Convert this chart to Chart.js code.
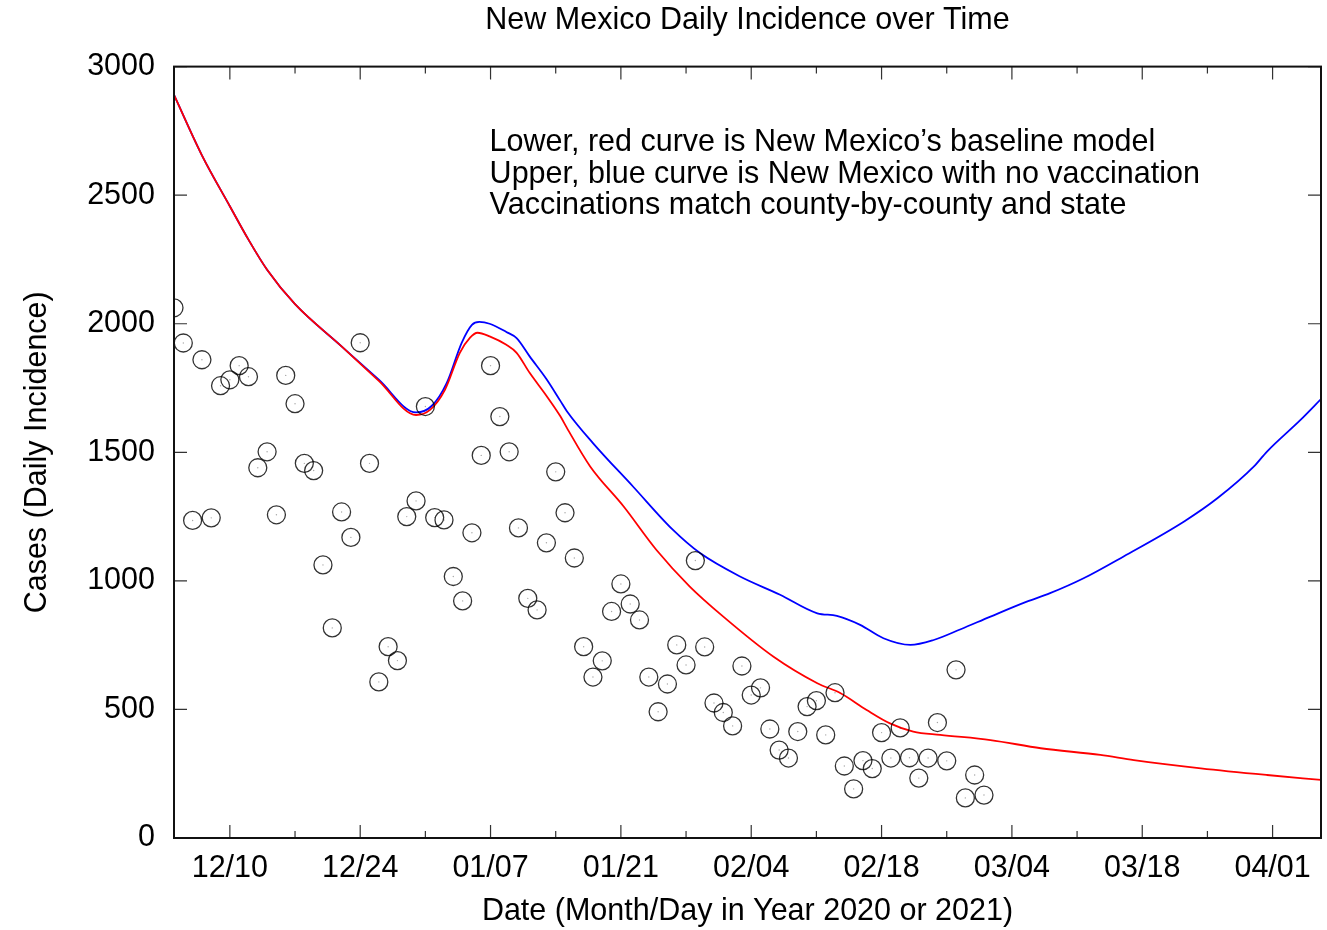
<!DOCTYPE html>
<html>
<head>
<meta charset="utf-8">
<title>New Mexico Daily Incidence over Time</title>
<script src="https://cdn.jsdelivr.net/npm/chart.js@4.4.0/dist/chart.umd.min.js"></script>
<style>
  html, body { margin: 0; padding: 0; background: #fff; }
  #wrap { width: 1327px; height: 930px; }
</style>
</head>
<body>
<div id="wrap"><canvas id="incidenceChart" width="1327" height="930"></canvas></div>
<script>
// day 0 = 12/04/2020, one observation per day
const observedCases = [
  2062, 1925, 1235, 1860, 1245, 1759, 1782, 1837, 1794, 1440,
  1502, 1257, 1799, 1689, 1457, 1429, 1062, 817, 1268, 1169,
  1926, 1457, 607, 744, 690, 1250, 1311, 1678, 1246, 1237,
  1017, 922, 1187, 1488, 1837, 1639, 1502, 1206, 932, 887,
  1148, 1424, 1265, 1089, 744, 626, 689, 881, 988, 910,
  848, 626, 491, 599, 751, 673, 1079, 743, 525, 488,
  436, 669, 556, 584, 424, 342, 311, 414, 511, 534,
  401, 565, 280, 191, 301, 270, 410, 311, 428, 312,
  233, 311, 449, 300, 654, 156, 245, 167
];

// lower, red curve: baseline model
const baselineDays = [0, 3, 6, 8, 10, 13, 18, 22, 26, 27.5, 29.1, 30.7, 31.8, 32.6, 33.9, 35.7, 36.8, 38.2, 40, 41.5,
  42.2, 44.7, 48.3, 51.8, 55.4, 59, 64.4, 69.1, 71.6, 74.4, 76.9, 79.4, 82.3, 87.7, 93.1, 99.5, 103.1, 110.3, 117.4, 123.2];
const baselineCases = [2890, 2655, 2457, 2327, 2210, 2076, 1912, 1778, 1645, 1665, 1743, 1887, 1946, 1965, 1951, 1918, 1887, 1809, 1720, 1640,
  1595, 1445, 1289, 1121, 978, 861, 705, 602, 563, 498, 446, 414, 401, 381, 349, 323, 303, 271, 245, 226];

// upper, blue curve: no vaccination
const noVaxDays = [0, 3, 6, 8, 10, 13, 18, 22, 26, 27.7, 29.3, 30.9, 32, 32.8, 33.9, 35.7, 36.8, 38.2, 40, 41.5,
  42.2, 45, 49.3, 53.6, 56.5, 60.8, 65.1, 69.1, 71.2, 73.7, 76.2, 79.1, 81.6, 84.5, 87.7, 91.6, 94.1, 97.7, 102,
  108.5, 112.1, 116, 117.4, 121, 123.2];
const noVaxCases = [2890, 2655, 2457, 2327, 2210, 2076, 1912, 1782, 1655, 1681, 1770, 1926, 1996, 2007, 2000, 1968, 1944, 1873, 1785, 1700,
  1660, 1536, 1367, 1198, 1108, 1017, 946, 874, 864, 829, 777, 751, 770, 812, 861, 919, 952, 1010, 1095,
  1231, 1322, 1445, 1503, 1626, 1707];

const xTickDays = [6, 13, 20, 27, 34, 41, 48, 55, 62, 69, 76, 83, 90, 97, 104, 111, 118];
const xTickLabels = ['12/10', '', '12/24', '', '01/07', '', '01/21', '', '02/04', '', '02/18', '', '03/04', '', '03/18', '', '04/01'];

const chartTitle = 'New Mexico Daily Incidence over Time';
const xAxisTitle = 'Date (Month/Day in Year 2020 or 2021)';
const yAxisTitle = 'Cases (Daily Incidence)';
const noteLines = [
  'Lower, red curve is New Mexico\u2019s baseline model',
  'Upper, blue curve is New Mexico with no vaccination',
  'Vaccinations match county-by-county and state'
];
const noteDay = 33.9;
const noteCases = 2704;

const fontFamily = '"Liberation Sans", Arial, Helvetica, sans-serif';
Chart.defaults.font.family = fontFamily;
Chart.defaults.font.size = 30.5;
Chart.defaults.color = '#000';

// gnuplot style box with inward ticks, plus the note text
const gnuplotFrame = {
  id: 'gnuplotFrame',
  afterDraw(chart) {
    const { ctx, chartArea } = chart;
    const { left, right, top, bottom } = chartArea;
    const xs = chart.scales.x;
    const ys = chart.scales.y;
    ctx.save();
    ctx.strokeStyle = '#333';
    ctx.lineWidth = 1.2;
    ctx.beginPath();
    xs.ticks.forEach(function(t, i) {
      const px = xs.getPixelForValue(t.value);
      const len = xTickLabels[i] ? 13 : 7;
      ctx.moveTo(px, bottom); ctx.lineTo(px, bottom - len);
      ctx.moveTo(px, top); ctx.lineTo(px, top + len);
    });
    ys.ticks.forEach(function(t) {
      const py = ys.getPixelForValue(t.value);
      ctx.moveTo(left, py); ctx.lineTo(left + 13, py);
      ctx.moveTo(right, py); ctx.lineTo(right - 13, py);
    });
    ctx.stroke();
    ctx.lineWidth = 2;
    ctx.strokeStyle = '#111';
    ctx.strokeRect(left, top, right - left, bottom - top);

    ctx.fillStyle = '#000';
    ctx.font = '30.5px ' + fontFamily;
    ctx.textAlign = 'left';
    ctx.textBaseline = 'middle';
    const nx = xs.getPixelForValue(noteDay);
    const ny = ys.getPixelForValue(noteCases);
    noteLines.forEach(function(line, i) {
      ctx.fillText(line, nx, ny + i * 31.5);
    });
    ctx.restore();
  }
};

const context = document.getElementById('incidenceChart').getContext('2d');
const incidenceChart = new Chart(context, {
  type: 'scatter',
  data: {
    datasets: [
      {
        label: 'Observed',
        data: observedCases.map((v, i) => ({ x: i, y: v })),
        pointStyle: 'circle',
        pointRadius: 9,
        borderColor: 'rgba(0,0,0,0.8)',
        backgroundColor: 'rgba(0,0,0,0)',
        borderWidth: 1.3
      },
      {
        label: 'Observed centre',
        data: observedCases.map((v, i) => ({ x: i, y: v })),
        pointStyle: 'circle',
        pointRadius: 0.7,
        borderWidth: 0,
        backgroundColor: 'rgba(0,0,0,0.35)'
      },
      {
        label: 'Baseline',
        data: baselineDays.map((d, i) => ({ x: d, y: baselineCases[i] })),
        showLine: true,
        pointRadius: 0,
        borderColor: 'rgb(255,0,0)',
        borderWidth: 1.8,
        cubicInterpolationMode: 'monotone'
      },
      {
        label: 'No vaccination',
        data: noVaxDays.map((d, i) => ({ x: d, y: noVaxCases[i] })),
        showLine: true,
        pointRadius: 0,
        borderColor: 'rgb(0,0,255)',
        borderWidth: 1.8,
        cubicInterpolationMode: 'monotone'
      }
    ]
  },
  options: {
    responsive: false,
    animation: false,
    devicePixelRatio: 1,
    layout: { autoPadding: false, padding: { left: 0, right: 6, top: 0, bottom: 0 } },
    plugins: {
      legend: { display: false },
      tooltip: { enabled: false },
      title: {
        display: true,
        text: chartTitle,
        fullSize: false,
        font: { size: 30.5, weight: 'normal' },
        color: '#000',
        padding: { top: 2, bottom: 28 }
      }
    },
    scales: {
      x: {
        type: 'linear',
        min: 0,
        max: 123.2,
        afterBuildTicks: function(scale) {
          scale.ticks = xTickDays.map(v => ({ value: v }));
        },
        afterFit: function(scale) {
          scale.height = 92;
          scale.paddingLeft = 0;
          scale.paddingRight = 0;
        },
        ticks: {
          autoSkip: false,
          maxRotation: 0,
          padding: 12,
          color: '#000',
          callback: function(value, index) { return xTickLabels[index]; }
        },
        grid: { display: false, drawTicks: false },
        border: { display: false },
        title: {
          display: true,
          text: xAxisTitle,
          color: '#000',
          padding: { top: 0, bottom: 0 }
        }
      },
      y: {
        min: 0,
        max: 3000,
        afterFit: function(scale) { scale.width = 174; },
        ticks: {
          stepSize: 500,
          padding: 19,
          color: '#000',
          callback: function(value) { return String(value); }
        },
        grid: { display: false, drawTicks: false },
        border: { display: false },
        title: {
          display: true,
          text: yAxisTitle,
          color: '#000',
          padding: { top: 19, bottom: 0 }
        }
      }
    }
  },
  plugins: [gnuplotFrame]
});
</script>
</body>
</html>
